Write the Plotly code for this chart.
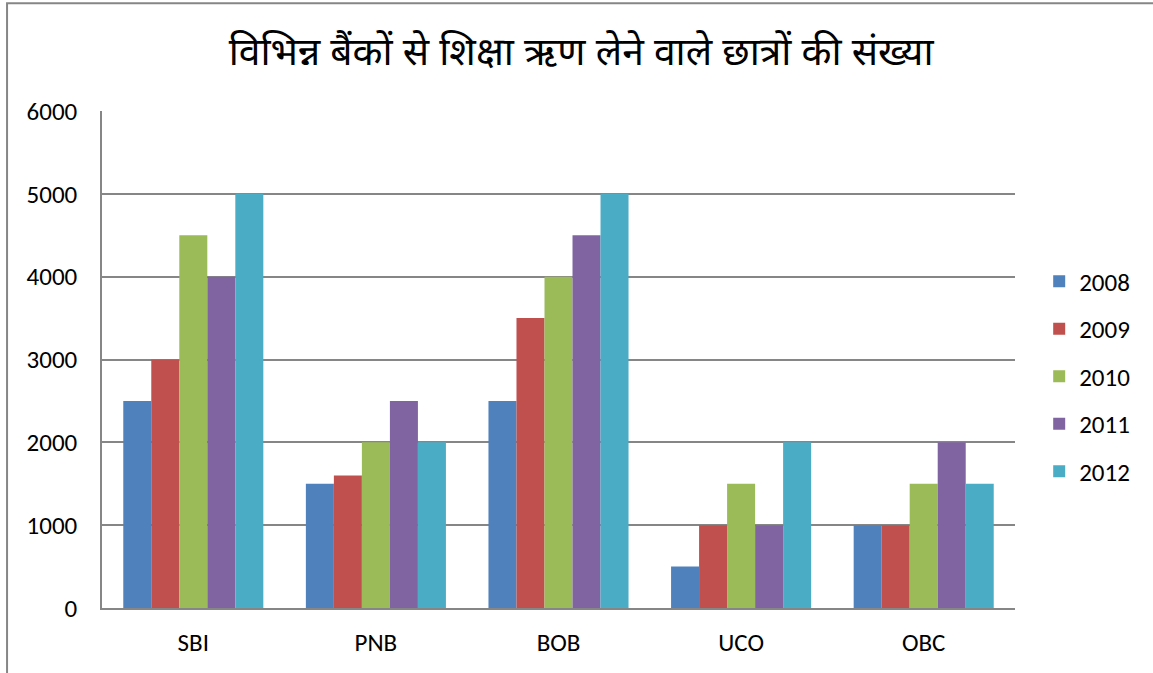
import plotly.graph_objects as go

banks = ["SBI", "PNB", "BOB", "UCO", "OBC"]
years = ["2008", "2009", "2010", "2011", "2012"]
students = {
    "2008": [2500, 1500, 2500, 500, 1000],
    "2009": [3000, 1600, 3500, 1000, 1000],
    "2010": [4500, 2000, 4000, 1500, 1500],
    "2011": [4000, 2500, 4500, 1000, 2000],
    "2012": [5000, 2000, 5000, 2000, 1500],
}
colors = ["#4F81BD", "#C0504D", "#9BBB59", "#8064A2", "#4BACC6"]
title = "विभिन्न बैंकों से शिक्षा ऋण लेने वाले छात्रों की संख्या"

font = "Carlito, Calibri, Lato, sans-serif"

fig = go.Figure()

for year, color in zip(years, colors):
    fig.add_trace(
        go.Bar(
            x=banks,
            y=students[year],
            name=year,
            legendgroup=year,
            marker=dict(color=color, line=dict(width=0)),
        )
    )

fig.update_layout(
    width=1153,
    height=673,
    barmode="group",
    bargap=0.233,
    bargroupgap=0,
    plot_bgcolor="white",
    paper_bgcolor="white",
    font=dict(family=font, size=25, color="black"),
    title=dict(
        text=title,
        x=0.504,
        xref="container",
        y=0.923,
        yref="container",
        xanchor="center",
        yanchor="middle",
        font=dict(family="Noto Sans Devanagari, Noto Sans, sans-serif", size=39, color="black"),
    ),
    margin=dict(
        l=102,
        r=138,
        t=111,
        b=65,
    ),
    legend=dict(
        x=1.0265,
        y=0.466,
        xanchor="left",
        yanchor="middle",
        traceorder="grouped",
        tracegroupgap=12,
        font=dict(family=font, size=25),
        itemwidth=30,
    ),
    showlegend=True,
)

fig.update_yaxes(
    range=[0, 6000],
    tickvals=[0, 1000, 2000, 3000, 4000, 5000, 6000],
    showgrid=True,
    gridcolor="#868686",
    gridwidth=1.5,
    showline=True,
    linecolor="#868686",
    linewidth=1.5,
    zeroline=False,
    ticks="",
    ticklabelstandoff=18,
    automargin=False,
)

fig.update_xaxes(
    showline=True,
    linecolor="#868686",
    linewidth=1.5,
    ticks="",
    ticklabelstandoff=11,
    automargin=False,
)

# outer chart border
fig.add_shape(
    type="rect",
    xref="paper",
    yref="paper",
    x0=-0.104,
    x1=2,
    y0=-1,
    y1=1.217,
    line=dict(color="#868686", width=2),
    fillcolor="rgba(0,0,0,0)",
    layer="below",
)

# drop the default page margin so the chart sits at the window corner
fig.write_html(
    "out.html",
    config={"displayModeBar": False},
    post_script="document.body.style.margin='0';",
)
